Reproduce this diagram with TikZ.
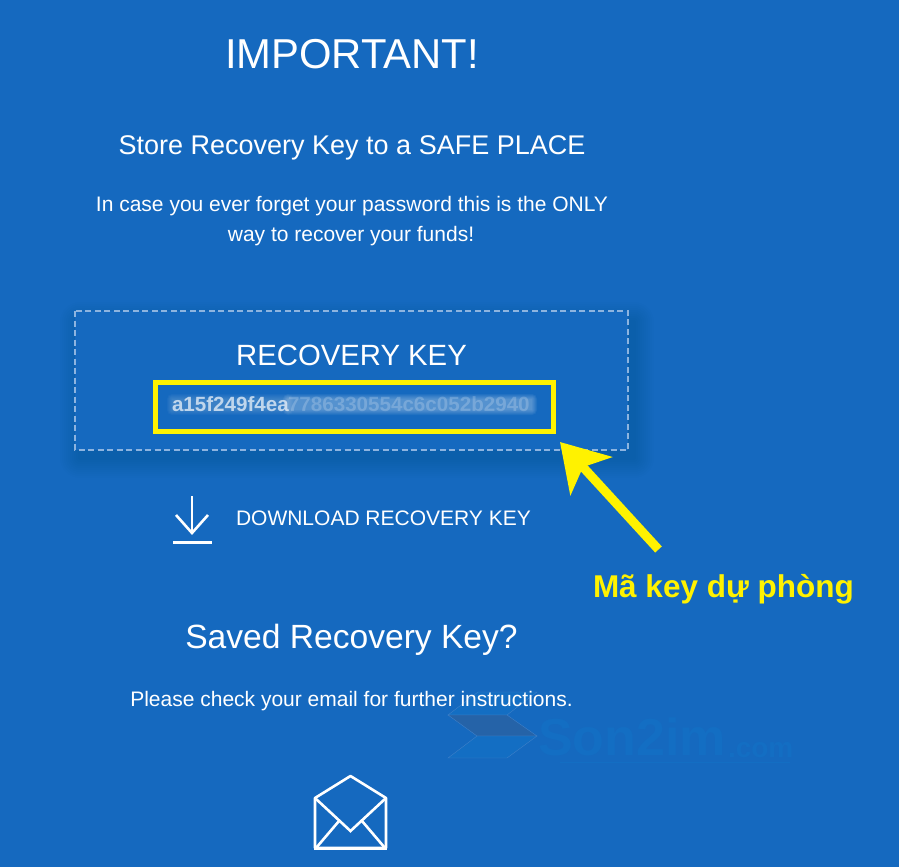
\documentclass[tikz,border=0pt]{standalone}
\usepackage{xcolor}
\usepackage{fontspec}
\setmainfont{Liberation Sans}
\usetikzlibrary{arrows.meta, positioning, calc}
\definecolor{pagebg}{HTML}{1569BF}
\definecolor{markyellow}{HTML}{FFF200}
\definecolor{dashblue}{HTML}{8DB4E0}
\definecolor{wmlight}{HTML}{136EC3}
\definecolor{wmdark}{HTML}{2563A8}
\definecolor{wmline}{HTML}{3F80C8}

\begin{document}
\begin{tikzpicture}[
    x=1pt, y=-1pt,
    every node/.style={inner sep=0pt, outer sep=0pt, text=white},
    title/.style={anchor=base, font=\fontsize{41.8}{42}\selectfont},
    heading/.style={anchor=base, font=\fontsize{27}{27}\selectfont},
    bodytext/.style={anchor=base, font=\fontsize{21}{21}\selectfont},
    keyblur/.style={anchor=base west, font=\fontsize{20.6}{21}\selectfont\bfseries},
    icon/.style={draw=white, line width=2.6pt},
    wmshape/.style={draw=wmline, line width=0.4pt},
    callout/.style={
        -{Stealth[length=46pt, width=56pt, inset=12pt]},
        line width=9pt,
        draw=markyellow
    }
]

% Background
\fill[pagebg] (0,0) rectangle (899,867);
\useasboundingbox (0,0) rectangle (899,867);

% Watermark
\fill[wmlight, wmshape] (478,692) -- (537,692) -- (507,715) -- (448,715) -- cycle;
\fill[wmdark, wmshape] (448,715) -- (507,715) -- (537,736) -- (477,736) -- cycle;
\fill[wmlight, wmshape] (477,736) -- (537,736) -- (507,758) -- (448,758) -- cycle;
\node[anchor=base west, text=wmlight, font=\fontsize{52}{52}\selectfont\bfseries] (wmname) at (538,755) {Son2im};
\node[anchor=base west, text=wmlight, font=\fontsize{28}{28}\selectfont\bfseries] (wmdomain) at (728,757) {.com};
\draw[wmlight, line width=1pt] (560,762) -- (790,762);

% Top texts
\node[title] (important) at (352,69) {IMPORTANT!};
\node[heading] (store) at (352,154) {Store Recovery Key to a SAFE PLACE};
\node[bodytext] (forget) at (352,211) {In case you ever forget your password this is the ONLY};
\node[bodytext] (funds) at (351,241) {way to recover your funds!};

% Shadow under the box
\foreach \r in {2,4,...,20} {
    \fill[black, opacity=0.006, rounded corners=\r pt]
        ($(80,322)+(-\r,-\r)$) rectangle ($(634,458)+(\r,\r)$);
}

% Recovery key box
\draw[dashblue, fill=pagebg, line width=2pt, dash pattern=on 6pt off 3.5pt] (75,311) rectangle (628,450);
\node[anchor=base, font=\fontsize{29.3}{30}\selectfont] (keytitle) at (351.5,365) {RECOVERY KEY};

% Blurred key
\foreach \r in {0,1,...,5} {
    \fill[white, opacity=0.055, rounded corners=\r pt]
        ($(288,399)+(-\r,-\r)$) rectangle ($(532,410)+(\r,\r)$);
    \fill[white, opacity=0.03, rounded corners=\r pt]
        ($(172,399)+(-\r,-\r)$) rectangle ($(288,410)+(\r,\r)$);
}
\node[keyblur, text opacity=0.68] (keyhead) at (172,411) {a15f249f4ea};
\node[keyblur, text opacity=0.2] (keytail) at (288,411) {7786330554c6c052b2940};
\draw[markyellow, line width=5pt] (155.5,382.5) rectangle (553.5,431.5);

% Download line
\node[bodytext, anchor=base west] (download) at (236,525) {DOWNLOAD RECOVERY KEY};
\draw[icon] (192,496) -- (192,533);
\draw[icon] (176,515) -- (192,533) -- (208,515);
\draw[icon, line width=3pt] (173,542.5) -- (212,542.5);

% Callout
\coordinate (calltail) at (658.5,549.5);
\coordinate (calltip) at (560,442);
\draw[callout] (calltail) -- (calltip);
\node[anchor=base west, text=markyellow, font=\fontsize{31.5}{32}\selectfont\bfseries] (keylabel) at (593,597) {Mã key dự phòng};

% Bottom texts
\node[anchor=base, font=\fontsize{33.6}{34}\selectfont] (saved) at (351.5,648) {Saved Recovery Key?};
\node[bodytext] (please) at (351.5,706) {Please check your email for further instructions.};

% Envelope
\draw[icon, line join=round] (315,798) -- (350.5,776) -- (386,798) -- (386,848) -- (315,848) -- cycle;
\draw[icon] (315,798) -- (350.5,831) -- (386,798);
\draw[icon] (339,821) -- (316,848);
\draw[icon] (362,821) -- (385,848);
\draw[white, line width=1.5pt] (314,849) -- (387,849);

\end{tikzpicture}
\end{document}
